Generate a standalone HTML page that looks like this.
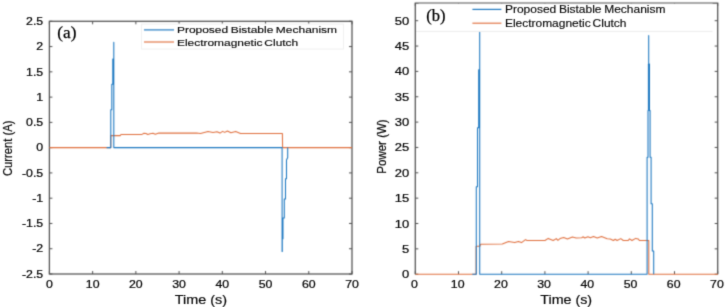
<!DOCTYPE html>
<html><head><meta charset="utf-8"><style>
html,body{margin:0;padding:0;background:#fff;width:725px;height:307px;overflow:hidden}
svg{display:block}
</style></head><body>
<svg width="725" height="307" viewBox="0 0 725 307">
<defs><filter id="bl" color-interpolation-filters="sRGB" filterUnits="userSpaceOnUse" x="0" y="0" width="725" height="307"><feConvolveMatrix order="3" kernelMatrix="1 4 1 4 16 4 1 4 1" divisor="36" edgeMode="duplicate" preserveAlpha="true"/></filter><filter id="bt" color-interpolation-filters="sRGB" filterUnits="userSpaceOnUse" x="0" y="0" width="725" height="307"><feConvolveMatrix order="3" kernelMatrix="1 6 1 6 36 6 1 6 1" divisor="64" edgeMode="none" preserveAlpha="false"/></filter></defs>
<g filter="url(#bl)">
<rect width="725" height="307" fill="#fff"/>
<path d="M49.4 274V271 M49.4 21.3V24.3 M92.63 274V271 M92.63 21.3V24.3 M135.86 274V271 M135.86 21.3V24.3 M179.09 274V271 M179.09 21.3V24.3 M222.31 274V271 M222.31 21.3V24.3 M265.54 274V271 M265.54 21.3V24.3 M308.77 274V271 M308.77 21.3V24.3 M352 274V271 M352 21.3V24.3 M49.4 274H52.4 M352 274H349 M49.4 248.73H52.4 M352 248.73H349 M49.4 223.46H52.4 M352 223.46H349 M49.4 198.19H52.4 M352 198.19H349 M49.4 172.92H52.4 M352 172.92H349 M49.4 147.65H52.4 M352 147.65H349 M49.4 122.38H52.4 M352 122.38H349 M49.4 97.11H52.4 M352 97.11H349 M49.4 71.84H52.4 M352 71.84H349 M49.4 46.57H52.4 M352 46.57H349 M49.4 21.3H52.4 M352 21.3H349" stroke="#505050" stroke-width="1" fill="none"/>
<path d="M415.3 274.2V271.2 M415.3 3V6 M458.5 274.2V271.2 M458.5 3V6 M501.7 274.2V271.2 M501.7 3V6 M544.9 274.2V271.2 M544.9 3V6 M588.1 274.2V271.2 M588.1 3V6 M631.3 274.2V271.2 M631.3 3V6 M674.5 274.2V271.2 M674.5 3V6 M717.7 274.2V271.2 M717.7 3V6 M415.3 274.2H418.3 M717.7 274.2H714.7 M415.3 248.85H418.3 M717.7 248.85H714.7 M415.3 223.5H418.3 M717.7 223.5H714.7 M415.3 198.15H418.3 M717.7 198.15H714.7 M415.3 172.8H418.3 M717.7 172.8H714.7 M415.3 147.45H418.3 M717.7 147.45H714.7 M415.3 122.1H418.3 M717.7 122.1H714.7 M415.3 96.75H418.3 M717.7 96.75H714.7 M415.3 71.4H418.3 M717.7 71.4H714.7 M415.3 46.05H418.3 M717.7 46.05H714.7 M415.3 20.7H418.3 M717.7 20.7H714.7" stroke="#505050" stroke-width="1" fill="none"/>
<rect x="49.4" y="21.3" width="302.6" height="252.7" fill="none" stroke="#505050" stroke-width="1.25"/>
<path d="M415.3 274.2V3H717.7V274.2" fill="none" stroke="#505050" stroke-width="1.25" stroke-linejoin="miter"/>
<polyline points="49.4,147.6 110.8,147.6 110.8,135.6 120.3,135.6 121,134.4 142,134.4 144,133.3 146,133.5 147.8,134.5 150,133.8 153,133.3 155.3,134.3 158.8,133.1 196.7,133.1 200.5,133.4 208,131.4 213,132.4 217,131.7 220,133.1 222.6,131.4 224.7,132.4 227.4,131 230.9,132.7 235.7,131.4 240.5,133.4 282.4,133.4 282.6,147.6 352,147.6" fill="none" stroke="#e0703f" stroke-width="1.05" stroke-linejoin="round"/>
<polyline points="106.6,147.6 110.8,147.6 110.8,109.7 111.8,109.7 111.8,84.2 112.8,84.2 112.8,59 113.8,59 113.8,42.2 113.8,147.6 282.1,147.6 282.1,251.5 282.3,251.5 282.3,238.8 282.95,238.8 282.95,218 284.3,218 284.3,199 285.5,199 285.5,178.8 286.5,178.8 286.5,160 287.7,157.6 287.7,147.6" fill="none" stroke="#1a76c0" stroke-width="1.05" stroke-linejoin="round"/>
<polyline points="415.5,274.2 476.1,274.2 476.1,246.3 479.9,246.3 480.6,244.2 502.3,244 508.5,241.5 514.7,242.6 518.4,241.4 521.5,242.6 525.5,239.6 527,240.5 545,240.5 548.2,238.4 553.2,240.5 556.3,238.6 557.9,240.3 560,238.6 563.72,237.41 567.44,238.9 572.41,237.03 576.13,238.03 581.71,237.78 582.95,236.79 584.81,238.03 587.92,236.79 590.4,237.66 593.5,236.54 597.22,238.03 601.56,236.41 604.67,237.66 607.15,238.65 610.25,239.02 613.35,240.51 615.21,239.27 617.07,240.51 620.79,238.65 623.28,240.51 628.24,240.51 629.48,238.9 631.96,240.51 635.68,238.4 638.16,238.9 639.4,240.51 647.47,240.51 648.8,240.5 648.8,274.2 718,274.2" fill="none" stroke="#e0703f" stroke-width="1.05" stroke-linejoin="round"/>
<polyline points="472.3,274.2 476.3,274.2 476.3,186.8 477.5,186.8 477.5,127.7 478.7,127.7 478.7,69.7 479.7,69.7 479.7,32.1 479.7,274.2 647.1,274.2 647.1,157.2 648,157.2 648,110.6 648.4,110.6 648.4,64 648.7,64 648.7,35.4 648.7,64 649.5,64 649.5,110.6 650.1,110.6 650.1,157.2 651.1,157.2 651.1,203.8 652.3,203.8 652.3,251 653.7,251 653.7,274.2" fill="none" stroke="#1a76c0" stroke-width="1.05" stroke-linejoin="round"/>
<rect x="141.5" y="24" width="202" height="25" fill="#fff" stroke="#f0f0f0" stroke-width="1"/>
<path d="M144 29.9H174" stroke="#1a76c0" stroke-width="1.15"/>
<path d="M144 42H174" stroke="#e0703f" stroke-width="1.15"/>
<rect x="418.6" y="3.65" width="294" height="27.75" fill="#fff"/><path d="M416 31.4H712.6" stroke="#ececec" stroke-width="1"/>
<path d="M472.4 9.4H501.4" stroke="#1a76c0" stroke-width="1.15"/>
<path d="M472.4 23.2H501.4" stroke="#e0703f" stroke-width="1.15"/>
</g><g filter="url(#bt)">
<text transform="translate(176.92 33.4) scale(1.2476 1)" font-family="Liberation Sans" font-size="9.6" fill="#0a0a0a" word-spacing="-0.6" stroke="#0a0a0a" stroke-width="0.15">Proposed Bistable Mechanism</text>
<text transform="translate(176.92 45.8) scale(1.2456 1)" font-family="Liberation Sans" font-size="9.6" fill="#0a0a0a" word-spacing="-1.2" stroke="#0a0a0a" stroke-width="0.15">Electromagnetic Clutch</text>
<text transform="translate(504.92 13.1) scale(1.1537 1)" font-family="Liberation Sans" font-size="10.4" fill="#0a0a0a" word-spacing="-0.6" stroke="#0a0a0a" stroke-width="0.15">Proposed Bistable Mechanism</text>
<text transform="translate(504.92 26.6) scale(1.1506 1)" font-family="Liberation Sans" font-size="10.4" fill="#0a0a0a" word-spacing="-1.2" stroke="#0a0a0a" stroke-width="0.15">Electromagnetic Clutch</text>
<text transform="translate(43.2 277.7) scale(1.12 1)" font-family="Liberation Sans" font-size="11" text-anchor="end" fill="#0a0a0a" stroke="#0a0a0a" stroke-width="0.25">-2.5</text>
<text transform="translate(43.2 252.43) scale(1.12 1)" font-family="Liberation Sans" font-size="11" text-anchor="end" fill="#0a0a0a" stroke="#0a0a0a" stroke-width="0.25">-2</text>
<text transform="translate(43.2 227.16) scale(1.12 1)" font-family="Liberation Sans" font-size="11" text-anchor="end" fill="#0a0a0a" stroke="#0a0a0a" stroke-width="0.25">-1.5</text>
<text transform="translate(43.2 201.89) scale(1.12 1)" font-family="Liberation Sans" font-size="11" text-anchor="end" fill="#0a0a0a" stroke="#0a0a0a" stroke-width="0.25">-1</text>
<text transform="translate(43.2 176.62) scale(1.12 1)" font-family="Liberation Sans" font-size="11" text-anchor="end" fill="#0a0a0a" stroke="#0a0a0a" stroke-width="0.25">-0.5</text>
<text transform="translate(43.2 151.35) scale(1.12 1)" font-family="Liberation Sans" font-size="11" text-anchor="end" fill="#0a0a0a" stroke="#0a0a0a" stroke-width="0.25">0</text>
<text transform="translate(43.2 126.08) scale(1.12 1)" font-family="Liberation Sans" font-size="11" text-anchor="end" fill="#0a0a0a" stroke="#0a0a0a" stroke-width="0.25">0.5</text>
<text transform="translate(43.2 100.81) scale(1.12 1)" font-family="Liberation Sans" font-size="11" text-anchor="end" fill="#0a0a0a" stroke="#0a0a0a" stroke-width="0.25">1</text>
<text transform="translate(43.2 75.54) scale(1.12 1)" font-family="Liberation Sans" font-size="11" text-anchor="end" fill="#0a0a0a" stroke="#0a0a0a" stroke-width="0.25">1.5</text>
<text transform="translate(43.2 50.27) scale(1.12 1)" font-family="Liberation Sans" font-size="11" text-anchor="end" fill="#0a0a0a" stroke="#0a0a0a" stroke-width="0.25">2</text>
<text transform="translate(43.2 25) scale(1.12 1)" font-family="Liberation Sans" font-size="11" text-anchor="end" fill="#0a0a0a" stroke="#0a0a0a" stroke-width="0.25">2.5</text>
<text transform="translate(49.4 288.1) scale(1.12 1)" font-family="Liberation Sans" font-size="11" text-anchor="middle" fill="#0a0a0a" stroke="#0a0a0a" stroke-width="0.25">0</text>
<text transform="translate(92.63 288.1) scale(1.12 1)" font-family="Liberation Sans" font-size="11" text-anchor="middle" fill="#0a0a0a" stroke="#0a0a0a" stroke-width="0.25">10</text>
<text transform="translate(135.86 288.1) scale(1.12 1)" font-family="Liberation Sans" font-size="11" text-anchor="middle" fill="#0a0a0a" stroke="#0a0a0a" stroke-width="0.25">20</text>
<text transform="translate(179.09 288.1) scale(1.12 1)" font-family="Liberation Sans" font-size="11" text-anchor="middle" fill="#0a0a0a" stroke="#0a0a0a" stroke-width="0.25">30</text>
<text transform="translate(222.31 288.1) scale(1.12 1)" font-family="Liberation Sans" font-size="11" text-anchor="middle" fill="#0a0a0a" stroke="#0a0a0a" stroke-width="0.25">40</text>
<text transform="translate(265.54 288.1) scale(1.12 1)" font-family="Liberation Sans" font-size="11" text-anchor="middle" fill="#0a0a0a" stroke="#0a0a0a" stroke-width="0.25">50</text>
<text transform="translate(308.77 288.1) scale(1.12 1)" font-family="Liberation Sans" font-size="11" text-anchor="middle" fill="#0a0a0a" stroke="#0a0a0a" stroke-width="0.25">60</text>
<text transform="translate(352 288.1) scale(1.12 1)" font-family="Liberation Sans" font-size="11" text-anchor="middle" fill="#0a0a0a" stroke="#0a0a0a" stroke-width="0.25">70</text>
<text transform="translate(409.1 278.2) scale(1.12 1)" font-family="Liberation Sans" font-size="11.6" text-anchor="end" fill="#0a0a0a" stroke="#0a0a0a" stroke-width="0.25">0</text>
<text transform="translate(409.1 252.85) scale(1.12 1)" font-family="Liberation Sans" font-size="11.6" text-anchor="end" fill="#0a0a0a" stroke="#0a0a0a" stroke-width="0.25">5</text>
<text transform="translate(409.1 227.5) scale(1.12 1)" font-family="Liberation Sans" font-size="11.6" text-anchor="end" fill="#0a0a0a" stroke="#0a0a0a" stroke-width="0.25">10</text>
<text transform="translate(409.1 202.15) scale(1.12 1)" font-family="Liberation Sans" font-size="11.6" text-anchor="end" fill="#0a0a0a" stroke="#0a0a0a" stroke-width="0.25">15</text>
<text transform="translate(409.1 176.8) scale(1.12 1)" font-family="Liberation Sans" font-size="11.6" text-anchor="end" fill="#0a0a0a" stroke="#0a0a0a" stroke-width="0.25">20</text>
<text transform="translate(409.1 151.45) scale(1.12 1)" font-family="Liberation Sans" font-size="11.6" text-anchor="end" fill="#0a0a0a" stroke="#0a0a0a" stroke-width="0.25">25</text>
<text transform="translate(409.1 126.1) scale(1.12 1)" font-family="Liberation Sans" font-size="11.6" text-anchor="end" fill="#0a0a0a" stroke="#0a0a0a" stroke-width="0.25">30</text>
<text transform="translate(409.1 100.75) scale(1.12 1)" font-family="Liberation Sans" font-size="11.6" text-anchor="end" fill="#0a0a0a" stroke="#0a0a0a" stroke-width="0.25">35</text>
<text transform="translate(409.1 75.4) scale(1.12 1)" font-family="Liberation Sans" font-size="11.6" text-anchor="end" fill="#0a0a0a" stroke="#0a0a0a" stroke-width="0.25">40</text>
<text transform="translate(409.1 50.05) scale(1.12 1)" font-family="Liberation Sans" font-size="11.6" text-anchor="end" fill="#0a0a0a" stroke="#0a0a0a" stroke-width="0.25">45</text>
<text transform="translate(409.1 24.7) scale(1.12 1)" font-family="Liberation Sans" font-size="11.6" text-anchor="end" fill="#0a0a0a" stroke="#0a0a0a" stroke-width="0.25">50</text>
<text transform="translate(414.5 288.1) scale(1.12 1)" font-family="Liberation Sans" font-size="11" text-anchor="middle" fill="#0a0a0a" stroke="#0a0a0a" stroke-width="0.25">0</text>
<text transform="translate(457.7 288.1) scale(1.12 1)" font-family="Liberation Sans" font-size="11" text-anchor="middle" fill="#0a0a0a" stroke="#0a0a0a" stroke-width="0.25">10</text>
<text transform="translate(500.9 288.1) scale(1.12 1)" font-family="Liberation Sans" font-size="11" text-anchor="middle" fill="#0a0a0a" stroke="#0a0a0a" stroke-width="0.25">20</text>
<text transform="translate(544.1 288.1) scale(1.12 1)" font-family="Liberation Sans" font-size="11" text-anchor="middle" fill="#0a0a0a" stroke="#0a0a0a" stroke-width="0.25">30</text>
<text transform="translate(587.3 288.1) scale(1.12 1)" font-family="Liberation Sans" font-size="11" text-anchor="middle" fill="#0a0a0a" stroke="#0a0a0a" stroke-width="0.25">40</text>
<text transform="translate(630.5 288.1) scale(1.12 1)" font-family="Liberation Sans" font-size="11" text-anchor="middle" fill="#0a0a0a" stroke="#0a0a0a" stroke-width="0.25">50</text>
<text transform="translate(673.7 288.1) scale(1.12 1)" font-family="Liberation Sans" font-size="11" text-anchor="middle" fill="#0a0a0a" stroke="#0a0a0a" stroke-width="0.25">60</text>
<text transform="translate(716.9 288.1) scale(1.12 1)" font-family="Liberation Sans" font-size="11" text-anchor="middle" fill="#0a0a0a" stroke="#0a0a0a" stroke-width="0.25">70</text>
<text transform="translate(174.68 303.6) scale(1.1641 1)" font-family="Liberation Sans" font-size="12.4" fill="#0a0a0a" stroke="#0a0a0a" stroke-width="0.2">Time (s)</text>
<text transform="translate(540.28 304) scale(1.1529 1)" font-family="Liberation Sans" font-size="12.4" fill="#0a0a0a" stroke="#0a0a0a" stroke-width="0.2">Time (s)</text>
<text transform="translate(12 148.3) scale(1.12 1) rotate(-90)" font-family="Liberation Sans" font-size="11.2" text-anchor="middle" fill="#0a0a0a" stroke="#0a0a0a" stroke-width="0.2">Current (A)</text>
<text transform="translate(386.4 146.5) scale(1.1 1) rotate(-90)" font-family="Liberation Sans" font-size="11.5" text-anchor="middle" fill="#0a0a0a" stroke="#0a0a0a" stroke-width="0.2">Power (W)</text>
<text transform="translate(57.3 37.8) scale(1 1)" font-family="Liberation Serif" font-size="17.2" text-anchor="start" fill="#000" stroke="#000" stroke-width="0.25">(a)</text>
<text transform="translate(426.2 21.2) scale(1 1)" font-family="Liberation Serif" font-size="16.5" text-anchor="start" fill="#000" stroke="#000" stroke-width="0.25">(b)</text>
</g>
</svg>
</body></html>
